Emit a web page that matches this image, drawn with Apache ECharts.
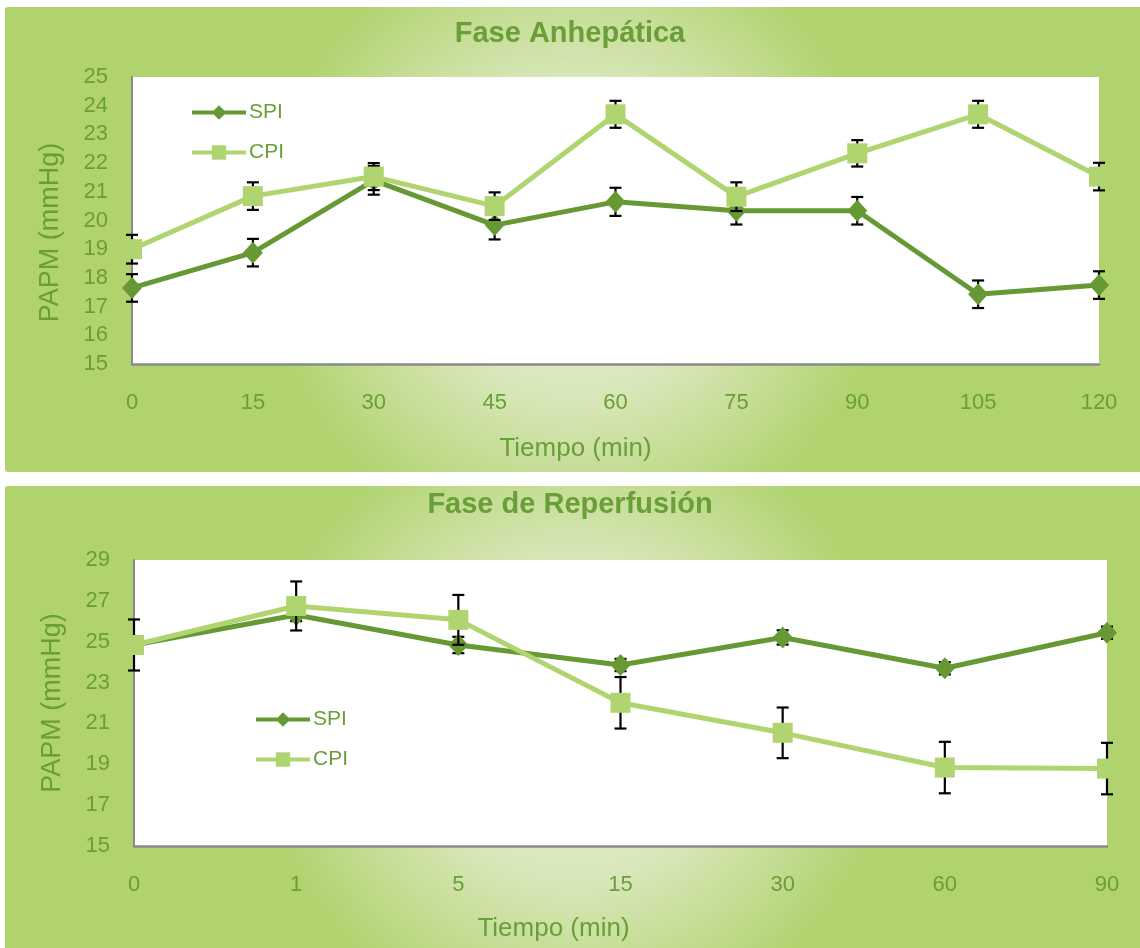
<!DOCTYPE html>
<html><head><meta charset="utf-8">
<script src="https://cdn.jsdelivr.net/npm/echarts@6/dist/echarts.min.js"></script>
<style>html,body{margin:0;padding:0;background:#fff}#c{width:1140px;height:948px}</style>
</head><body><div id="c"></div>
<script>
// Panel A: Fase Anhepática
const catsA = ['0','15','30','45','60','75','90','105','120'];
const spiA = [17.65, 18.88, 21.4, 19.84, 20.65, 20.34, 20.34, 17.43, 17.75];
const spiAErr = [0.48, 0.48, 0.5, 0.5, 0.49, 0.48, 0.48, 0.48, 0.48];
const cpiA = [19.0, 20.85, 21.53, 20.5, 23.7, 20.83, 22.34, 23.7, 21.53];
const cpiAErr = [0.5, 0.48, 0.47, 0.48, 0.47, 0.5, 0.46, 0.47, 0.48];
// Panel B: Fase de Reperfusión
const catsB = ['0','1','5','15','30','60','90'];
const spiB = [24.84, 26.31, 24.84, 23.86, 25.21, 23.7, 25.44];
const spiBErr = [0.3, 0.3, 0.4, 0.3, 0.35, 0.3, 0.3];
const cpiB = [24.84, 26.75, 26.07, 22.01, 20.54, 18.84, 18.79];
const cpiBErr = [1.25, 1.2, 1.22, 1.26, 1.24, 1.26, 1.26];

const DARK = '#669933', LIGHT = '#b0d470', TXT = '#6a9e38', FONT = '"Liberation Sans", Arial, sans-serif';

const chart = echarts.init(document.getElementById('c'), null, {renderer:'canvas'});

function bg(){
  return new echarts.graphic.RadialGradient(0.5, 0.5, 0.68, [
    {offset:0, color:'#eef4e0'},
    {offset:0.5, color:'#d8e7b9'},
    {offset:1, color:'#b0d36e'}
  ]);
}
function errSeries(name, vals, errs, xi, yi, z){
  return {
    type:'custom', name: name + ' err', xAxisIndex:xi, yAxisIndex:yi, z:z, silent:true,
    clip:false,
    data: vals.map((v,i)=>[i, v, errs[i]]),
    encode:{x:0, y:1},
    renderItem:(params, api)=>{
      const x = api.value(0), v = api.value(1), e = api.value(2);
      const t = api.coord([x, v+e]), b = api.coord([x, v-e]);
      const w = 6, st = {stroke:'#000', lineWidth:2.2};
      return {type:'group', children:[
        {type:'line', shape:{x1:t[0], y1:t[1], x2:b[0], y2:b[1]}, style:st},
        {type:'line', shape:{x1:t[0]-w, y1:t[1], x2:t[0]+w, y2:t[1]}, style:st},
        {type:'line', shape:{x1:b[0]-w, y1:b[1], x2:b[0]+w, y2:b[1]}, style:st}
      ]};
    }
  };
}
function lineSeries(name, vals, xi, yi, z, sym, size, color){
  return {type:'line', name:name, xAxisIndex:xi, yAxisIndex:yi, z:z, data:vals,
    symbol:sym, symbolSize:size, showSymbol:true, clip:false,
    lineStyle:{color:color, width:5}, itemStyle:{color:color}};
}
function xAx(gi, cats, gap, shift){
  return {type:'category', gridIndex:gi, data:cats, boundaryGap:false,
    axisLine:{lineStyle:{color:'#8a8a8a', width:2.5}}, axisTick:{show:false},
    axisLabel:{color:TXT, fontSize:22, fontFamily:FONT, margin:28},
    name:'Tiempo (min)', nameLocation:'middle', nameGap:gap,
    nameTextStyle:{color:TXT, fontSize:26, fontFamily:FONT, padding:[0, shift*2, 0, 0]}};
}
function yAx(gi, min, max, iv, shift){
  return {type:'value', gridIndex:gi, min:min, max:max, interval:iv,
    axisLine:{show:true, lineStyle:{color:'#8a8a8a', width:2}}, axisTick:{show:false},
    splitLine:{show:false},
    axisLabel:{color:TXT, fontSize:22, fontFamily:FONT, margin:24},
    name:'PAPM (mmHg)', nameLocation:'middle', nameGap:68,
    nameTextStyle:{color:TXT, fontSize:27, fontFamily:FONT, padding: shift>=0 ? [0, shift*2, 0, 0] : [0, 0, 0, -shift*2]}};
}
function legend(left, top){
  return {left:left, top:top, orient:'vertical', itemGap:19, itemWidth:54, itemHeight:18,
    selectedMode:false, data:['SPI','CPI'],
    lineStyle:{width:4},
    textStyle:{color:TXT, fontSize:21, fontFamily:FONT, padding:[0,0,0,-2]}};
}

chart.setOption({
  animation:false,
  backgroundColor:'#fff',
  graphic:[
    {type:'rect', z:-10, shape:{x:5, y:7, width:1140, height:465, r:3}, style:{fill:bg()}},
    {type:'rect', z:-10, shape:{x:5, y:486, width:1140, height:470, r:3}, style:{fill:bg()}}
  ],
  title:[
    {text:'Fase Anhepática', left:'center', top:14, textStyle:{color:TXT, fontSize:29, fontWeight:'bold', fontFamily:FONT}},
    {text:'Fase de Reperfusión', left:'center', top:485, textStyle:{color:TXT, fontSize:29, fontWeight:'bold', fontFamily:FONT}}
  ],
  legend:[legend(185, 97), legend(249, 704)],
  grid:[
    {left:132, top:77, width:967, height:287, show:true, backgroundColor:'#fff', borderWidth:0},
    {left:134, top:560, width:973, height:286, show:true, backgroundColor:'#fff', borderWidth:0}
  ],
  xAxis:[xAx(0, catsA, 72, 40), xAx(1, catsB, 70, 67)],
  yAxis:[yAx(0, 15, 25, 1, 12), yAx(1, 15, 29, 2, 0)],
  series:[
    errSeries('SPI', spiA, spiAErr, 0, 0, 3),
    lineSeries('SPI', spiA, 0, 0, 4, 'diamond', [20,22], DARK),
    errSeries('CPI', cpiA, cpiAErr, 0, 0, 5),
    lineSeries('CPI', cpiA, 0, 0, 6, 'rect', 20, LIGHT),
    errSeries('SPI', spiB, spiBErr, 1, 1, 3),
    lineSeries('SPI', spiB, 1, 1, 4, 'diamond', [20,22], DARK),
    errSeries('CPI', cpiB, cpiBErr, 1, 1, 5),
    lineSeries('CPI', cpiB, 1, 1, 6, 'rect', 20, LIGHT)
  ]
});
</script></body></html>
